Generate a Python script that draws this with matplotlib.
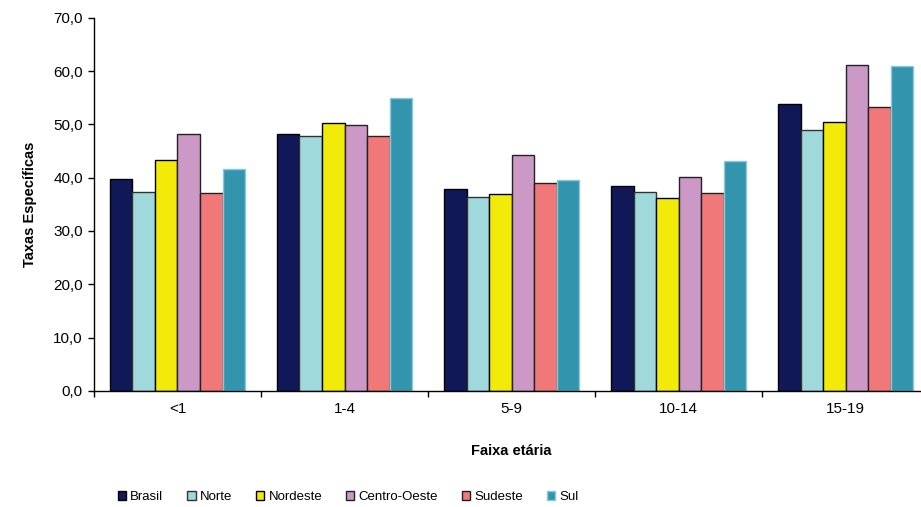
import numpy as np
import matplotlib
matplotlib.use("Agg")
import matplotlib.pyplot as plt

plt.rcParams['font.family'] = ['Liberation Sans', 'DejaVu Sans']

faixas = ['<1', '1-4', '5-9', '10-14', '15-19']
regioes = ['Brasil', 'Norte', 'Nordeste', 'Centro-Oeste', 'Sudeste', 'Sul']
valores = {
    'Brasil':       [39.8, 48.1, 37.9, 38.4, 53.9],
    'Norte':        [37.4, 47.9, 36.3, 37.4, 48.9],
    'Nordeste':     [43.4, 50.2, 36.9, 36.1, 50.5],
    'Centro-Oeste': [48.1, 49.8, 44.3, 40.2, 61.2],
    'Sudeste':      [37.2, 47.9, 39.0, 37.2, 53.2],
    'Sul':          [41.6, 54.9, 39.5, 43.2, 61.0],
}
cores = ['#111858', '#a0d9dc', '#f2eb0a', '#cc99c6', '#f07878', '#3394ae']
bordas = ['#000000', '#333333', '#000000', '#222222', '#222222', '#8cc8d6']

fig = plt.figure(figsize=(9.21, 5.07), dpi=100)
ax = fig.add_axes([0.102, 0.229, 0.907, 0.736])

x = np.arange(len(faixas))
w = 0.81 / len(regioes)
for i, reg in enumerate(regioes):
    ax.bar(x - 0.405 + w * (i + 0.5), valores[reg], width=w, color=cores[i],
           edgecolor=bordas[i], linewidth=1.0, label=reg)

ax.set_xlim(-0.5, 4.5)
ax.set_ylim(0, 70)
ax.set_yticks(np.arange(0, 71, 10))
ax.set_yticklabels([f'{v:.1f}'.replace('.', ',') for v in np.arange(0, 71, 10)])
ax.set_xticks(x)
ax.set_xticklabels(faixas)
ax.set_xticks(np.arange(-0.5, 5, 1), minor=True)
ax.tick_params(axis='x', which='major', length=0, pad=8, labelsize=11)
ax.tick_params(axis='x', which='minor', length=4, direction='out', width=1)
ax.tick_params(axis='y', length=4, width=1, labelsize=11, pad=4)

for s in ['top', 'right']:
    ax.spines[s].set_visible(False)
ax.spines['left'].set_linewidth(1)
ax.spines['bottom'].set_linewidth(1)

ax.set_ylabel('Taxas Específicas', fontsize=10.5, fontweight='bold', labelpad=12)
ax.set_xlabel('Faixa etária', fontsize=10.5, fontweight='bold', labelpad=20)

leg = fig.legend(loc='center', bbox_to_anchor=(0.378, 0.02), ncol=6, frameon=False,
                 fontsize=9.5, handlelength=0.65, handleheight=0.65,
                 handletextpad=0.3, columnspacing=1.8)

fig.savefig('out.png', dpi=100)
